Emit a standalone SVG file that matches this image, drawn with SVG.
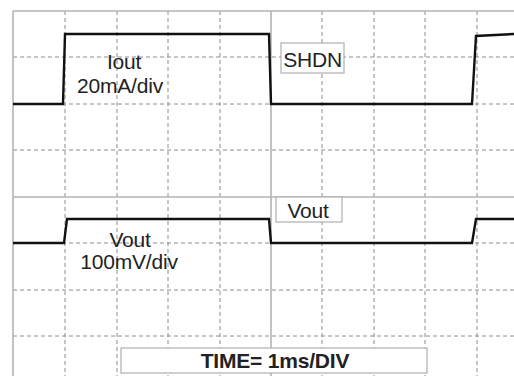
<svg xmlns="http://www.w3.org/2000/svg" width="514" height="376" viewBox="0 0 514 376">
<style>
.solid{stroke:#b4b4b4;stroke-width:1.6;fill:none}
.dash{stroke:#8c8c8c;stroke-width:1;stroke-dasharray:4 3;fill:none}
.trace{stroke:#111;stroke-width:2.4;fill:none;stroke-linejoin:miter}
.lbl{font-family:"Liberation Sans",Arial,sans-serif;font-size:21px;fill:#222;letter-spacing:-0.2px}
.box{fill:#fff;stroke:#b0b0b0;stroke-width:1.2}
</style>
<rect width="514" height="376" fill="#fff"/>
<g id="grid">
<path class="dash" d="M65 11V376M117 11V376M168 11V376M220 11V376M322 11V376M374 11V376M425 11V376M477 11V376"/>
<path class="dash" d="M13 57H514M13 104H514M13 150H514M13 243H514M13 290H514M13 336H514"/>
<path class="solid" d="M13 11H514M13 197H514M13 11V376M271 11V376"/>
</g>
<g id="traces">
<path id="iout-trace" class="trace" d="M13 104H63L65 34H269L271 104H472L476 36L514 34"/>
<path id="vout-trace" class="trace" d="M13 243H64L67 219H269L271 243H472L476 219H514"/>
</g>
<g id="iout-label">
<text class="lbl" x="124" y="69" text-anchor="middle">Iout</text>
<text class="lbl" x="120" y="93" text-anchor="middle">20mA/div</text>
</g>
<g id="shdn-label">
<rect class="box" x="281" y="43" width="63" height="30"/>
<text class="lbl" x="312.5" y="67" text-anchor="middle">SHDN</text>
</g>
<g id="vout-box-label">
<rect class="box" x="276" y="197" width="66" height="25"/>
<text class="lbl" x="308" y="218" text-anchor="middle">Vout</text>
</g>
<g id="vout-label">
<text class="lbl" x="130" y="247" text-anchor="middle">Vout</text>
<text class="lbl" x="129" y="269" text-anchor="middle">100mV/div</text>
</g>
<g id="time-label">
<rect class="box" x="121" y="348" width="306" height="25"/>
<text class="lbl" x="275" y="368" text-anchor="middle" font-weight="bold" fill="#111">TIME= 1ms/DIV</text>
</g>
</svg>
